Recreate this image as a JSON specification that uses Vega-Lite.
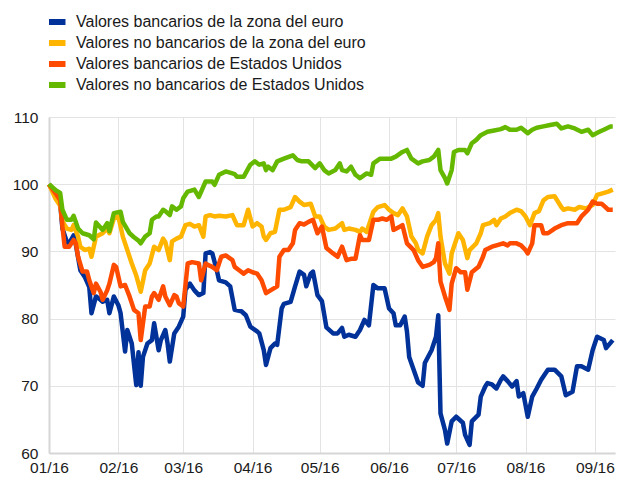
{
  "$schema": "https://vega.github.io/schema/vega-lite/v6.json",
  "width": 566,
  "height": 336,
  "autosize": {"type": "none"},
  "padding": {"left": 49, "top": 117, "right": 3, "bottom": 26},
  "background": "white",
  "config": {
    "view": {"stroke": null},
    "font": "Liberation Sans",
    "axis": {"labelFont": "Liberation Sans", "labelFontSize": 15.5, "labelColor": "#1a1a1a", "gridColor": "#e3e3e3", "gridWidth": 1, "domainColor": "#d6d6d6", "domainWidth": 2, "ticks": false, "title": null}
  },
  "datasets": {
    "blue": [
      {"d":"2016-01-01","v":100},{"d":"2016-01-04","v":98.4},{"d":"2016-01-06","v":97.2},{"d":"2016-01-07","v":93.4},{"d":"2016-01-09","v":91.4},{"d":"2016-01-10","v":91.2},{"d":"2016-01-12","v":92.4},{"d":"2016-01-13","v":91.0},{"d":"2016-01-15","v":87.2},{"d":"2016-01-17","v":86.2},{"d":"2016-01-19","v":84.7},{"d":"2016-01-20","v":80.8},{"d":"2016-01-22","v":83.3},{"d":"2016-01-24","v":82.8},{"d":"2016-01-25","v":82.5},{"d":"2016-01-27","v":82.8},{"d":"2016-01-28","v":80.8},{"d":"2016-01-30","v":83.3},
      {"d":"2016-02-01","v":82.0},{"d":"2016-02-02","v":80.8},{"d":"2016-02-04","v":75.1},{"d":"2016-02-05","v":78.3},{"d":"2016-02-07","v":76.3},{"d":"2016-02-09","v":70.1},{"d":"2016-02-10","v":75.0},{"d":"2016-02-11","v":70.0},{"d":"2016-02-12","v":74.3},{"d":"2016-02-14","v":76.3},{"d":"2016-02-16","v":76.8},{"d":"2016-02-17","v":79.3},{"d":"2016-02-19","v":75.3},{"d":"2016-02-20","v":76.8},{"d":"2016-02-22","v":78.3},{"d":"2016-02-23","v":76.3},{"d":"2016-02-24","v":73.6},{"d":"2016-02-26","v":77.8},{"d":"2016-02-28","v":78.8},
      {"d":"2016-03-01","v":80.3},{"d":"2016-03-02","v":84.3},{"d":"2016-03-04","v":85.2},{"d":"2016-03-06","v":84.2},{"d":"2016-03-08","v":83.5},{"d":"2016-03-10","v":83.8},{"d":"2016-03-11","v":89.7},{"d":"2016-03-13","v":89.9},{"d":"2016-03-14","v":89.7},{"d":"2016-03-16","v":87.2},{"d":"2016-03-17","v":85.7},{"d":"2016-03-20","v":85.4},{"d":"2016-03-22","v":84.8},{"d":"2016-03-24","v":81.3},{"d":"2016-03-27","v":81.1},{"d":"2016-03-29","v":80.5},{"d":"2016-03-31","v":78.8},
      {"d":"2016-04-03","v":78.1},{"d":"2016-04-04","v":77.8},{"d":"2016-04-06","v":75.3},{"d":"2016-04-07","v":73.1},{"d":"2016-04-09","v":75.6},{"d":"2016-04-11","v":76.3},{"d":"2016-04-12","v":76.1},{"d":"2016-04-14","v":81.5},{"d":"2016-04-15","v":82.2},{"d":"2016-04-18","v":82.5},{"d":"2016-04-20","v":84.8},{"d":"2016-04-22","v":87.0},{"d":"2016-04-24","v":86.5},{"d":"2016-04-25","v":84.8},{"d":"2016-04-27","v":86.7},{"d":"2016-04-28","v":87.0},{"d":"2016-04-30","v":83.5},
      {"d":"2016-05-02","v":82.6},{"d":"2016-05-04","v":78.7},{"d":"2016-05-07","v":77.8},{"d":"2016-05-09","v":77.8},{"d":"2016-05-11","v":78.6},{"d":"2016-05-12","v":77.3},{"d":"2016-05-14","v":77.6},{"d":"2016-05-17","v":77.3},{"d":"2016-05-19","v":78.3},{"d":"2016-05-21","v":79.8},{"d":"2016-05-23","v":79.0},{"d":"2016-05-25","v":85.0},{"d":"2016-05-27","v":84.5},{"d":"2016-05-30","v":84.5},
      {"d":"2016-06-01","v":81.5},{"d":"2016-06-03","v":80.8},{"d":"2016-06-04","v":79.0},{"d":"2016-06-06","v":79.0},{"d":"2016-06-08","v":80.3},{"d":"2016-06-09","v":78.1},{"d":"2016-06-10","v":74.3},{"d":"2016-06-12","v":72.4},{"d":"2016-06-14","v":70.5},{"d":"2016-06-16","v":70.0},{"d":"2016-06-17","v":73.4},{"d":"2016-06-20","v":75.3},{"d":"2016-06-22","v":77.3},{"d":"2016-06-23","v":80.5},{"d":"2016-06-24","v":65.9},{"d":"2016-06-26","v":63.4},{"d":"2016-06-27","v":61.4},{"d":"2016-06-29","v":64.7},
      {"d":"2016-07-01","v":65.4},{"d":"2016-07-04","v":64.5},{"d":"2016-07-05","v":62.7},{"d":"2016-07-07","v":61.2},{"d":"2016-07-08","v":64.7},{"d":"2016-07-11","v":65.7},{"d":"2016-07-12","v":68.4},{"d":"2016-07-14","v":69.9},{"d":"2016-07-15","v":70.4},{"d":"2016-07-17","v":70.2},{"d":"2016-07-19","v":69.6},{"d":"2016-07-21","v":70.9},{"d":"2016-07-22","v":71.4},{"d":"2016-07-24","v":70.7},{"d":"2016-07-26","v":69.9},{"d":"2016-07-28","v":70.7},{"d":"2016-07-29","v":68.4},{"d":"2016-07-31","v":68.9},
      {"d":"2016-08-02","v":65.4},{"d":"2016-08-04","v":68.4},{"d":"2016-08-06","v":69.6},{"d":"2016-08-08","v":70.9},{"d":"2016-08-11","v":72.4},{"d":"2016-08-14","v":72.4},{"d":"2016-08-17","v":71.4},{"d":"2016-08-19","v":68.6},{"d":"2016-08-22","v":69.1},{"d":"2016-08-24","v":72.9},{"d":"2016-08-26","v":72.9},{"d":"2016-08-29","v":72.4},{"d":"2016-08-31","v":75.3},
      {"d":"2016-09-02","v":77.3},{"d":"2016-09-05","v":76.8},{"d":"2016-09-06","v":75.6},{"d":"2016-09-09","v":76.8}
    ],
    "yellow": [
      {"d":"2016-01-01","v":100},{"d":"2016-01-04","v":97.8},{"d":"2016-01-06","v":96.8},{"d":"2016-01-07","v":94.5},{"d":"2016-01-09","v":93.4},{"d":"2016-01-11","v":93.2},{"d":"2016-01-12","v":93.9},{"d":"2016-01-14","v":92.2},{"d":"2016-01-15","v":90.7},{"d":"2016-01-17","v":90.2},{"d":"2016-01-19","v":90.4},{"d":"2016-01-20","v":89.2},{"d":"2016-01-22","v":92.2},{"d":"2016-01-25","v":92.7},{"d":"2016-01-27","v":93.4},{"d":"2016-01-28","v":92.7},{"d":"2016-01-30","v":94.9},
      {"d":"2016-02-01","v":95.2},{"d":"2016-02-03","v":92.2},{"d":"2016-02-05","v":90.2},{"d":"2016-02-07","v":88.2},{"d":"2016-02-09","v":86.4},{"d":"2016-02-11","v":84.0},{"d":"2016-02-13","v":87.2},{"d":"2016-02-15","v":88.2},{"d":"2016-02-17","v":90.7},{"d":"2016-02-19","v":90.2},{"d":"2016-02-21","v":91.9},{"d":"2016-02-22","v":91.4},{"d":"2016-02-24","v":88.7},{"d":"2016-02-25","v":91.5},{"d":"2016-02-27","v":91.9},{"d":"2016-02-29","v":92.2},
      {"d":"2016-03-02","v":93.9},{"d":"2016-03-04","v":94.1},{"d":"2016-03-06","v":93.7},{"d":"2016-03-08","v":93.9},{"d":"2016-03-10","v":92.2},{"d":"2016-03-11","v":95.2},{"d":"2016-03-13","v":95.4},{"d":"2016-03-15","v":95.2},{"d":"2016-03-17","v":95.3},{"d":"2016-03-20","v":95.2},{"d":"2016-03-23","v":95.4},{"d":"2016-03-25","v":93.9},{"d":"2016-03-28","v":93.9},{"d":"2016-03-30","v":96.2},
      {"d":"2016-04-01","v":93.7},{"d":"2016-04-03","v":94.2},{"d":"2016-04-05","v":93.7},{"d":"2016-04-06","v":92.2},{"d":"2016-04-07","v":91.7},{"d":"2016-04-09","v":92.7},{"d":"2016-04-11","v":92.9},{"d":"2016-04-13","v":96.2},{"d":"2016-04-15","v":96.2},{"d":"2016-04-18","v":96.6},{"d":"2016-04-20","v":98.1},{"d":"2016-04-22","v":97.4},{"d":"2016-04-24","v":96.9},{"d":"2016-04-27","v":97.1},{"d":"2016-04-29","v":95.2},
      {"d":"2016-05-01","v":95.2},{"d":"2016-05-03","v":93.7},{"d":"2016-05-05","v":93.2},{"d":"2016-05-08","v":93.4},{"d":"2016-05-11","v":94.2},{"d":"2016-05-12","v":93.2},{"d":"2016-05-14","v":93.4},{"d":"2016-05-17","v":93.2},{"d":"2016-05-19","v":92.9},{"d":"2016-05-20","v":93.4},{"d":"2016-05-22","v":92.9},{"d":"2016-05-25","v":95.9},{"d":"2016-05-27","v":96.6},{"d":"2016-05-30","v":96.9},
      {"d":"2016-06-01","v":96.2},{"d":"2016-06-03","v":95.7},{"d":"2016-06-05","v":95.4},{"d":"2016-06-07","v":96.4},{"d":"2016-06-09","v":95.2},{"d":"2016-06-11","v":92.2},{"d":"2016-06-13","v":91.2},{"d":"2016-06-14","v":90.2},{"d":"2016-06-16","v":89.7},{"d":"2016-06-18","v":92.2},{"d":"2016-06-20","v":93.9},{"d":"2016-06-22","v":94.7},{"d":"2016-06-23","v":95.7},{"d":"2016-06-24","v":92.2},{"d":"2016-06-26","v":88.2},{"d":"2016-06-28","v":86.7},{"d":"2016-06-29","v":89.7},
      {"d":"2016-07-02","v":92.7},{"d":"2016-07-04","v":91.7},{"d":"2016-07-06","v":89.0},{"d":"2016-07-07","v":90.2},{"d":"2016-07-10","v":91.2},{"d":"2016-07-12","v":92.7},{"d":"2016-07-13","v":93.9},{"d":"2016-07-16","v":94.2},{"d":"2016-07-18","v":94.7},{"d":"2016-07-19","v":93.9},{"d":"2016-07-21","v":94.9},{"d":"2016-07-23","v":95.2},{"d":"2016-07-25","v":95.7},{"d":"2016-07-28","v":96.2},{"d":"2016-07-30","v":96.0},
      {"d":"2016-08-01","v":95.2},{"d":"2016-08-03","v":93.9},{"d":"2016-08-05","v":95.7},{"d":"2016-08-07","v":96.0},{"d":"2016-08-09","v":97.6},{"d":"2016-08-11","v":98.1},{"d":"2016-08-14","v":98.2},{"d":"2016-08-17","v":96.6},{"d":"2016-08-18","v":96.2},{"d":"2016-08-20","v":96.4},{"d":"2016-08-23","v":96.2},{"d":"2016-08-25","v":96.6},{"d":"2016-08-28","v":96.4},{"d":"2016-08-31","v":96.9},
      {"d":"2016-09-02","v":98.4},{"d":"2016-09-04","v":98.6},{"d":"2016-09-07","v":98.9},{"d":"2016-09-09","v":99.2}
    ],
    "red": [
      {"d":"2016-01-01","v":100},{"d":"2016-01-04","v":98.6},{"d":"2016-01-06","v":97.6},{"d":"2016-01-07","v":93.7},{"d":"2016-01-08","v":90.7},{"d":"2016-01-10","v":90.7},{"d":"2016-01-12","v":91.7},{"d":"2016-01-13","v":91.2},{"d":"2016-01-14","v":89.2},{"d":"2016-01-16","v":87.0},{"d":"2016-01-18","v":87.0},{"d":"2016-01-19","v":85.7},{"d":"2016-01-21","v":83.8},{"d":"2016-01-22","v":85.2},{"d":"2016-01-24","v":84.0},{"d":"2016-01-25","v":82.8},{"d":"2016-01-27","v":84.2},{"d":"2016-01-28","v":85.2},{"d":"2016-01-30","v":88.0},{"d":"2016-01-31","v":87.7},
      {"d":"2016-02-02","v":84.8},{"d":"2016-02-04","v":85.0},{"d":"2016-02-06","v":83.3},{"d":"2016-02-08","v":81.3},{"d":"2016-02-10","v":80.8},{"d":"2016-02-11","v":76.8},{"d":"2016-02-13","v":81.8},{"d":"2016-02-15","v":81.8},{"d":"2016-02-16","v":83.3},{"d":"2016-02-17","v":83.8},{"d":"2016-02-19","v":82.8},{"d":"2016-02-21","v":84.8},{"d":"2016-02-22","v":83.3},{"d":"2016-02-24","v":82.0},{"d":"2016-02-26","v":83.5},{"d":"2016-02-27","v":83.3},{"d":"2016-02-28","v":82.3},
      {"d":"2016-03-01","v":81.8},{"d":"2016-03-03","v":88.2},{"d":"2016-03-05","v":88.4},{"d":"2016-03-08","v":88.2},{"d":"2016-03-09","v":85.7},{"d":"2016-03-11","v":88.2},{"d":"2016-03-12","v":88.0},{"d":"2016-03-14","v":87.7},{"d":"2016-03-16","v":87.2},{"d":"2016-03-18","v":89.2},{"d":"2016-03-20","v":89.4},{"d":"2016-03-23","v":88.7},{"d":"2016-03-24","v":87.7},{"d":"2016-03-26","v":87.2},{"d":"2016-03-28","v":86.7},{"d":"2016-03-30","v":87.2},
      {"d":"2016-04-01","v":86.9},{"d":"2016-04-03","v":86.7},{"d":"2016-04-05","v":85.7},{"d":"2016-04-07","v":83.8},{"d":"2016-04-09","v":84.2},{"d":"2016-04-12","v":84.8},{"d":"2016-04-13","v":89.2},{"d":"2016-04-15","v":90.2},{"d":"2016-04-17","v":90.2},{"d":"2016-04-19","v":91.2},{"d":"2016-04-20","v":93.2},{"d":"2016-04-22","v":94.2},{"d":"2016-04-24","v":94.0},{"d":"2016-04-26","v":94.4},{"d":"2016-04-28","v":94.7},{"d":"2016-04-30","v":92.7},
      {"d":"2016-05-02","v":93.7},{"d":"2016-05-04","v":90.5},{"d":"2016-05-07","v":89.7},{"d":"2016-05-09","v":89.2},{"d":"2016-05-11","v":90.7},{"d":"2016-05-13","v":88.7},{"d":"2016-05-15","v":88.9},{"d":"2016-05-17","v":88.9},{"d":"2016-05-19","v":92.4},{"d":"2016-05-20","v":91.7},{"d":"2016-05-23","v":91.7},{"d":"2016-05-25","v":94.7},{"d":"2016-05-27","v":94.7},{"d":"2016-05-29","v":94.9},{"d":"2016-05-31","v":94.7},
      {"d":"2016-06-02","v":95.2},{"d":"2016-06-03","v":93.2},{"d":"2016-06-06","v":93.7},{"d":"2016-06-07","v":93.9},{"d":"2016-06-09","v":91.2},{"d":"2016-06-12","v":90.2},{"d":"2016-06-14","v":88.7},{"d":"2016-06-16","v":87.7},{"d":"2016-06-19","v":88.0},{"d":"2016-06-21","v":88.4},{"d":"2016-06-22","v":89.0},{"d":"2016-06-23","v":91.2},{"d":"2016-06-24","v":85.5},{"d":"2016-06-26","v":83.3},{"d":"2016-06-28","v":81.3},{"d":"2016-06-29","v":85.2},
      {"d":"2016-07-01","v":87.5},{"d":"2016-07-03","v":86.9},{"d":"2016-07-05","v":86.9},{"d":"2016-07-06","v":84.3},{"d":"2016-07-08","v":86.9},{"d":"2016-07-11","v":87.7},{"d":"2016-07-13","v":89.2},{"d":"2016-07-14","v":90.2},{"d":"2016-07-17","v":90.7},{"d":"2016-07-19","v":90.9},{"d":"2016-07-22","v":91.2},{"d":"2016-07-24","v":90.9},{"d":"2016-07-25","v":91.2},{"d":"2016-07-28","v":91.2},{"d":"2016-07-30","v":90.9},
      {"d":"2016-08-01","v":90.2},{"d":"2016-08-02","v":89.7},{"d":"2016-08-04","v":91.2},{"d":"2016-08-05","v":93.9},{"d":"2016-08-08","v":93.9},{"d":"2016-08-09","v":92.7},{"d":"2016-08-11","v":92.7},{"d":"2016-08-14","v":93.4},{"d":"2016-08-17","v":93.9},{"d":"2016-08-20","v":94.2},{"d":"2016-08-24","v":94.2},{"d":"2016-08-26","v":95.2},{"d":"2016-08-29","v":96.2},{"d":"2016-08-31","v":97.4},
      {"d":"2016-09-02","v":97.1},{"d":"2016-09-04","v":97.1},{"d":"2016-09-07","v":96.2},{"d":"2016-09-09","v":96.2}
    ],
    "green": [
      {"d":"2016-01-01","v":100},{"d":"2016-01-04","v":99.1},{"d":"2016-01-06","v":98.7},{"d":"2016-01-07","v":96.2},{"d":"2016-01-09","v":94.7},{"d":"2016-01-11","v":94.7},{"d":"2016-01-12","v":95.3},{"d":"2016-01-14","v":93.4},{"d":"2016-01-16","v":92.7},{"d":"2016-01-19","v":92.4},{"d":"2016-01-21","v":91.8},{"d":"2016-01-22","v":94.3},{"d":"2016-01-25","v":93.2},{"d":"2016-01-27","v":94.2},{"d":"2016-01-28","v":93.0},{"d":"2016-01-30","v":95.7},
      {"d":"2016-02-02","v":95.9},{"d":"2016-02-03","v":94.4},{"d":"2016-02-06","v":92.7},{"d":"2016-02-08","v":92.1},{"d":"2016-02-10","v":91.6},{"d":"2016-02-11","v":91.2},{"d":"2016-02-13","v":92.2},{"d":"2016-02-15","v":92.7},{"d":"2016-02-16","v":94.7},{"d":"2016-02-18","v":95.2},{"d":"2016-02-19","v":95.2},{"d":"2016-02-21","v":96.2},{"d":"2016-02-22","v":96.0},{"d":"2016-02-24","v":95.4},{"d":"2016-02-25","v":96.7},{"d":"2016-02-27","v":96.2},{"d":"2016-02-29","v":96.7},
      {"d":"2016-03-01","v":97.9},{"d":"2016-03-03","v":98.9},{"d":"2016-03-06","v":99.2},{"d":"2016-03-08","v":98.1},{"d":"2016-03-11","v":100.4},{"d":"2016-03-14","v":100.4},{"d":"2016-03-15","v":99.9},{"d":"2016-03-17","v":101.4},{"d":"2016-03-20","v":101.9},{"d":"2016-03-23","v":101.6},{"d":"2016-03-24","v":101.5},{"d":"2016-03-25","v":101.1},{"d":"2016-03-28","v":101.1},{"d":"2016-03-31","v":102.9},
      {"d":"2016-04-02","v":103.4},{"d":"2016-04-04","v":102.9},{"d":"2016-04-06","v":103.1},{"d":"2016-04-07","v":102.1},{"d":"2016-04-08","v":102.6},{"d":"2016-04-10","v":102.1},{"d":"2016-04-12","v":103.4},{"d":"2016-04-15","v":103.8},{"d":"2016-04-19","v":104.3},{"d":"2016-04-21","v":103.6},{"d":"2016-04-23","v":103.4},{"d":"2016-04-26","v":103.4},{"d":"2016-04-29","v":102.4},
      {"d":"2016-05-01","v":103.1},{"d":"2016-05-03","v":102.1},{"d":"2016-05-05","v":101.6},{"d":"2016-05-08","v":102.1},{"d":"2016-05-10","v":103.1},{"d":"2016-05-11","v":102.1},{"d":"2016-05-13","v":101.9},{"d":"2016-05-15","v":102.6},{"d":"2016-05-17","v":101.4},{"d":"2016-05-19","v":100.9},{"d":"2016-05-22","v":101.6},{"d":"2016-05-24","v":101.4},{"d":"2016-05-25","v":103.1},{"d":"2016-05-28","v":103.8},{"d":"2016-05-31","v":103.8},
      {"d":"2016-06-02","v":103.8},{"d":"2016-06-04","v":104.1},{"d":"2016-06-07","v":104.8},{"d":"2016-06-09","v":105.1},{"d":"2016-06-11","v":103.8},{"d":"2016-06-14","v":103.1},{"d":"2016-06-16","v":103.4},{"d":"2016-06-19","v":103.6},{"d":"2016-06-21","v":104.1},{"d":"2016-06-23","v":105.1},{"d":"2016-06-24","v":102.1},{"d":"2016-06-26","v":100.9},{"d":"2016-06-27","v":100.1},{"d":"2016-06-29","v":102.1},{"d":"2016-06-30","v":104.8},
      {"d":"2016-07-02","v":105.1},{"d":"2016-07-05","v":105.1},{"d":"2016-07-06","v":104.6},{"d":"2016-07-08","v":106.1},{"d":"2016-07-10","v":106.6},{"d":"2016-07-12","v":107.3},{"d":"2016-07-15","v":107.8},{"d":"2016-07-18","v":108.0},{"d":"2016-07-21","v":108.2},{"d":"2016-07-23","v":108.5},{"d":"2016-07-25","v":108.1},{"d":"2016-07-28","v":108.1},{"d":"2016-07-30","v":108.4},
      {"d":"2016-08-02","v":107.6},{"d":"2016-08-04","v":108.1},{"d":"2016-08-06","v":108.4},{"d":"2016-08-09","v":108.6},{"d":"2016-08-12","v":108.8},{"d":"2016-08-15","v":109.0},{"d":"2016-08-17","v":108.3},{"d":"2016-08-20","v":108.6},{"d":"2016-08-23","v":108.3},{"d":"2016-08-26","v":107.8},{"d":"2016-08-29","v":108.1},{"d":"2016-08-31","v":107.3},
      {"d":"2016-09-03","v":107.8},{"d":"2016-09-05","v":108.1},{"d":"2016-09-08","v":108.6},{"d":"2016-09-09","v":108.6}
    ]
  },
  "encoding": {
    "x": {
      "field": "d", "type": "temporal",
      "scale": {"type": "utc", "domain": [{"year": 2016, "month": 1, "date": 1, "utc": true}, {"year": 2016, "month": 9, "date": 10, "utc": true}]},
      "axis": {"format": "%m/%y", "tickCount": {"interval": "month", "step": 1}, "labelPadding": 7, "labelFlush": false, "labelOverlap": false, "grid": true}
    },
    "y": {
      "field": "v", "type": "quantitative",
      "scale": {"domain": [60, 110], "nice": false, "zero": false},
      "axis": {"values": [60, 70, 80, 90, 100, 110], "labelPadding": 11, "grid": true}
    }
  },
  "layer": [
    {"data": {"name": "blue"}, "mark": {"type": "line", "strokeWidth": 4.5, "strokeJoin": "round"}, "encoding": {"color": {"datum": "Valores bancarios de la zona del euro"}}},
    {"data": {"name": "yellow"}, "mark": {"type": "line", "strokeWidth": 4.5, "strokeJoin": "round"}, "encoding": {"color": {"datum": "Valores no bancarios de la zona del euro"}}},
    {"data": {"name": "red"}, "mark": {"type": "line", "strokeWidth": 4.5, "strokeJoin": "round"}, "encoding": {"color": {"datum": "Valores bancarios de Estados Unidos"}}},
    {"data": {"name": "green"}, "mark": {"type": "line", "strokeWidth": 4.5, "strokeJoin": "round"}, "encoding": {"color": {
      "datum": "Valores no bancarios de Estados Unidos",
      "scale": {"domain": ["Valores bancarios de la zona del euro", "Valores no bancarios de la zona del euro", "Valores bancarios de Estados Unidos", "Valores no bancarios de Estados Unidos"], "range": ["#003299", "#ffb400", "#ff4b00", "#65b800"]},
      "legend": {"title": null, "orient": "none", "legendX": 0, "legendY": -103, "padding": 0, "symbolType": "M-2,0H2", "symbolSize": 72, "symbolStrokeWidth": 6, "labelFont": "Liberation Sans", "labelFontSize": 16, "labelColor": "#1a1a1a", "labelOffset": 11, "rowPadding": 5, "clipHeight": 16, "labelLimit": 400}
    }}}
  ]
}
